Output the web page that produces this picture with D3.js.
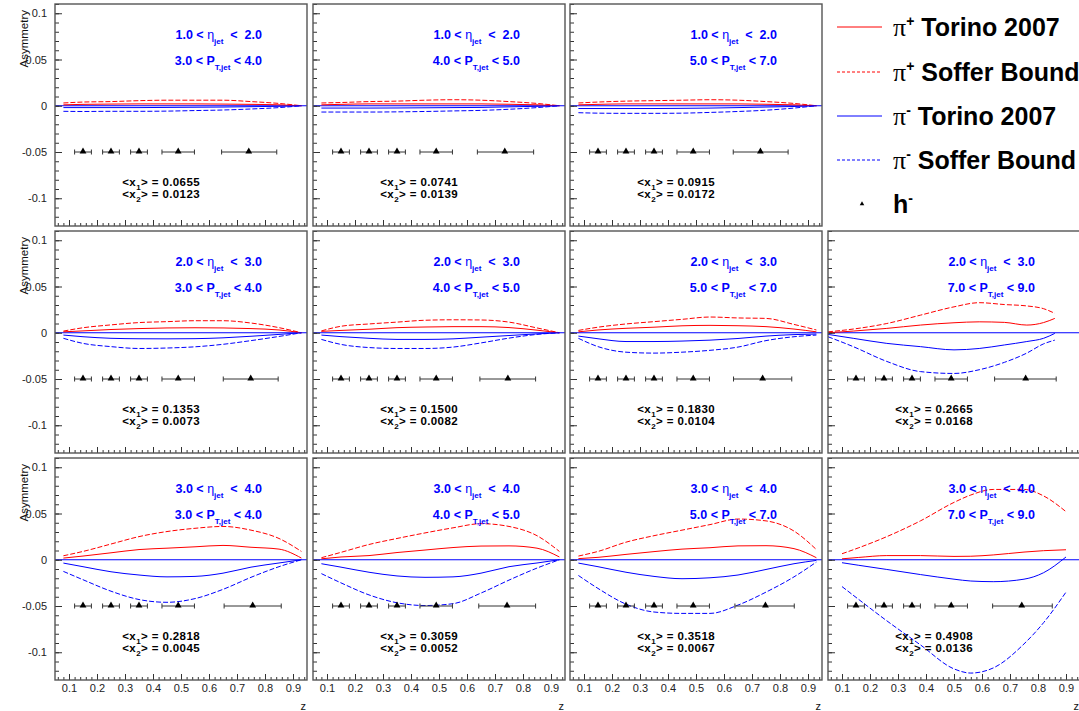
<!DOCTYPE html>
<html lang="en">
<head>
  <meta charset="UTF-8">
  <title>Asymmetry vs z</title>
  <script src="https://d3js.org/d3.v7.min.js"></script>
  <style>
    body { margin: 0; background: #fff; }
    svg { display: block; font-family: "Liberation Sans", Arial, Helvetica, sans-serif; }
    text { white-space: pre; }
    .tick text { font-size: 11px; fill: #222; font-family: "Liberation Sans", Arial, sans-serif; }
    .tick line { stroke: #333; }
  </style>
</head>
<body>
  <script>
    const W = 1079, H = 711;

    // panel order: row 1 (3 panels), row 2 (4), row 3 (4)
    const panelRow = [0, 0, 0, 1, 1, 1, 1, 2, 2, 2, 2];
    const panelCol = [0, 1, 2, 0, 1, 2, 3, 0, 1, 2, 3];

    const etaBins = [["1.0", "2.0"], ["2.0", "3.0"], ["3.0", "4.0"]];
    const ptBins = [["3.0", "4.0"], ["4.0", "5.0"], ["5.0", "7.0"], ["7.0", "9.0"]];
    const x1Mean = ["0.0655", "0.0741", "0.0915", "0.1353", "0.1500", "0.1830", "0.2665", "0.2818", "0.3059", "0.3518", "0.4908"];
    const x2Mean = ["0.0123", "0.0139", "0.0172", "0.0073", "0.0082", "0.0104", "0.0168", "0.0045", "0.0052", "0.0067", "0.0136"];

    // z grids the curves are sampled on
    const zStd = [0.08, 0.15, 0.25, 0.35, 0.45, 0.55, 0.65, 0.75, 0.85, 0.93];
    const zR2C4 = [0.05, 0.14, 0.26, 0.38, 0.5, 0.59, 0.68, 0.76, 0.82, 0.86];
    const zR3C4 = [0.1, 0.16, 0.26, 0.38, 0.5, 0.56, 0.64, 0.75, 0.82, 0.9];
    const panelZ = [zStd, zStd, zStd, zStd, zStd, zStd, zR2C4, zStd, zStd, zStd, zR3C4];

    const torinoPlus = [
      [0.001, 0.0015, 0.0018, 0.002, 0.002, 0.002, 0.0018, 0.0015, 0.001, 0],
      [0.001, 0.0015, 0.002, 0.002, 0.002, 0.002, 0.002, 0.0016, 0.001, 0],
      [0.001, 0.0015, 0.002, 0.002, 0.002, 0.002, 0.002, 0.0016, 0.001, 0],
      [0.001, 0.002, 0.0035, 0.0045, 0.0052, 0.0054, 0.0052, 0.0045, 0.003, 0],
      [0.0015, 0.0025, 0.0038, 0.0055, 0.0062, 0.0066, 0.0066, 0.0056, 0.0028, 0],
      [0.001, 0.003, 0.0048, 0.006, 0.0075, 0.008, 0.0076, 0.0066, 0.004, 0.001],
      [0, 0.0018, 0.0047, 0.0083, 0.0108, 0.0118, 0.0112, 0.0083, 0.011, 0.0155],
      [0.0018, 0.004, 0.0075, 0.011, 0.0125, 0.014, 0.0155, 0.0135, 0.0115, 0.0018],
      [0.001, 0.003, 0.0045, 0.0078, 0.0105, 0.0132, 0.0148, 0.015, 0.0125, 0.003],
      [0.0012, 0.0026, 0.0058, 0.0088, 0.0115, 0.013, 0.015, 0.0152, 0.012, 0.0022],
      [0.001, 0.0025, 0.0045, 0.0045, 0.0036, 0.0038, 0.0052, 0.0083, 0.0098, 0.0108]
    ];
    const sofferPlus = [
      [0.003, 0.004, 0.0045, 0.0055, 0.006, 0.006, 0.006, 0.0045, 0.0025, 0],
      [0.003, 0.0035, 0.0045, 0.005, 0.006, 0.0065, 0.006, 0.0045, 0.0025, 0],
      [0.003, 0.004, 0.005, 0.0055, 0.006, 0.0065, 0.006, 0.0045, 0.0025, 0],
      [0.0018, 0.0054, 0.0085, 0.011, 0.012, 0.013, 0.013, 0.0105, 0.0055, 0],
      [0.002, 0.007, 0.0095, 0.0115, 0.0135, 0.014, 0.0138, 0.0115, 0.0052, 0],
      [0.0025, 0.006, 0.0095, 0.012, 0.0145, 0.017, 0.016, 0.0155, 0.009, 0.003],
      [0.001, 0.004, 0.01, 0.019, 0.028, 0.0325, 0.0305, 0.029, 0.026, 0.021],
      [0.0043, 0.009, 0.017, 0.025, 0.0305, 0.034, 0.036, 0.032, 0.023, 0.009],
      [0.0022, 0.008, 0.0165, 0.023, 0.029, 0.0345, 0.039, 0.036, 0.026, 0.009],
      [0.004, 0.009, 0.019, 0.026, 0.032, 0.038, 0.044, 0.042, 0.031, 0.011],
      [0.0065, 0.013, 0.025, 0.042, 0.062, 0.07, 0.076, 0.076, 0.069, 0.052]
    ];
    const torinoMinus = [
      [-0.002, -0.002, -0.002, -0.002, -0.0018, -0.0016, -0.0014, -0.001, -0.0006, 0],
      [-0.0025, -0.0025, -0.0025, -0.0024, -0.0022, -0.002, -0.0018, -0.0012, -0.0006, 0],
      [-0.003, -0.003, -0.003, -0.003, -0.0028, -0.0025, -0.002, -0.0014, -0.0008, 0],
      [-0.0025, -0.0043, -0.006, -0.0065, -0.0066, -0.0064, -0.0055, -0.0038, -0.0018, 0],
      [-0.0025, -0.0042, -0.006, -0.0072, -0.0072, -0.0066, -0.0048, -0.003, -0.0012, 0],
      [-0.0036, -0.0065, -0.0095, -0.0095, -0.009, -0.008, -0.0062, -0.0036, -0.002, -0.0014],
      [-0.0018, -0.006, -0.0115, -0.015, -0.0185, -0.017, -0.0132, -0.0095, -0.006, -0.0007],
      [-0.0036, -0.0075, -0.013, -0.0165, -0.0185, -0.018, -0.0145, -0.008, -0.0035, 0],
      [-0.0043, -0.008, -0.0135, -0.0175, -0.019, -0.0185, -0.0145, -0.0075, -0.0035, 0],
      [-0.0036, -0.0075, -0.0135, -0.018, -0.0205, -0.0195, -0.0165, -0.0105, -0.0043, -0.0007],
      [-0.0032, -0.006, -0.0105, -0.016, -0.021, -0.023, -0.0237, -0.021, -0.014, 0.003]
    ];
    const sofferMinus = [
      [-0.006, -0.0062, -0.006, -0.006, -0.0058, -0.0052, -0.0046, -0.0035, -0.002, 0],
      [-0.0068, -0.0068, -0.0068, -0.0066, -0.0062, -0.0056, -0.005, -0.0038, -0.002, 0],
      [-0.0075, -0.008, -0.0082, -0.0082, -0.008, -0.0072, -0.0062, -0.0048, -0.0025, 0],
      [-0.006, -0.0115, -0.015, -0.017, -0.0165, -0.0152, -0.0125, -0.0085, -0.004, 0],
      [-0.0072, -0.0126, -0.016, -0.017, -0.017, -0.0155, -0.011, -0.0058, -0.0018, 0],
      [-0.006, -0.015, -0.021, -0.022, -0.021, -0.019, -0.0155, -0.0085, -0.0043, -0.0025],
      [-0.0043, -0.015, -0.031, -0.042, -0.044, -0.04, -0.032, -0.022, -0.012, -0.008],
      [-0.0126, -0.0216, -0.034, -0.043, -0.046, -0.042, -0.032, -0.019, -0.0075, 0],
      [-0.015, -0.025, -0.038, -0.0465, -0.0495, -0.0475, -0.036, -0.022, -0.009, 0],
      [-0.017, -0.031, -0.048, -0.0565, -0.058, -0.058, -0.049, -0.035, -0.0185, -0.0025],
      [-0.029, -0.043, -0.066, -0.092, -0.118, -0.1225, -0.117, -0.091, -0.068, -0.035]
    ];

    // h- points (all at asymmetry -0.05)
    const hY = -0.05;
    const hZ = [0.15, 0.25, 0.35, 0.49];
    const hErr = [0.03, 0.03, 0.03, 0.058];
    const hLastZ = [0.742, 0.735, 0.73, 0.749, 0.746, 0.738, 0.756, 0.756, 0.743, 0.748, 0.742];
    const hLastLo = [0.645, 0.637, 0.633, 0.651, 0.646, 0.634, 0.645, 0.654, 0.642, 0.639, 0.638];
    const hLastHi = [0.842, 0.838, 0.829, 0.847, 0.845, 0.842, 0.865, 0.858, 0.845, 0.851, 0.851];

    const yMajor = [-0.1, -0.05, 0, 0.05, 0.1];
    const xMajor = [0.1, 0.2, 0.3, 0.4, 0.5, 0.6, 0.7, 0.8, 0.9];

    const legendCharge = ["+", "+", "-", "-"];
    const legendNames = ["Torino 2007", "Soffer Bound", "Torino 2007", "Soffer Bound"];

    // layout
    const colLeft = [55, 313, 570, 828];
    const rowTop = [4, 231, 458];
    const pw = 252, ph = 222;
    const RED = "#ff0000", BLUE = "#0000ff";

    const x = d3.scaleLinear().domain([0.05, 0.95]).range([0, pw]);
    const y = d3.scaleLinear().domain([-0.13, 0.11]).range([ph, 0]);

    const line = d3.line()
      .x(d => x(d[0]))
      .y(d => y(d[1]))
      .curve(d3.curveMonotoneX);

    const fmt = d => d === 0 ? "0" : String(+d.toFixed(2));

    const svg = d3.select("body").append("svg")
      .attr("width", W)
      .attr("height", H);

    // text with sub/superscripts: parts = [text, size, dy, weight, family]
    function rich(g, px, py, parts, fill, size, anchor) {
      const t = g.append("text")
        .attr("x", px).attr("y", py)
        .attr("text-anchor", anchor || "end")
        .attr("font-size", size)
        .attr("font-weight", "bold")
        .attr("fill", fill);
      parts.forEach(p => {
        const ts = t.append("tspan").text(p[0]);
        if (p[1]) ts.attr("font-size", p[1]);
        if (p[2]) ts.attr("dy", p[2]);
        if (p[3]) ts.attr("font-weight", p[3]);
        if (p[4]) ts.attr("font-family", p[4]);
      });
      return t;
    }

    panelRow.forEach((r, i) => {
      const c = panelCol[i];
      const g = svg.append("g").attr("transform", `translate(${colLeft[c]},${rowTop[r]})`);
      const zs = panelZ[i];

      // zero line
      g.append("line")
        .attr("x1", 0).attr("x2", pw)
        .attr("y1", y(0)).attr("y2", y(0))
        .attr("stroke", BLUE).attr("stroke-width", 1);

      const curves = [
        [torinoPlus[i], RED, null],
        [sofferPlus[i], RED, "5,2"],
        [torinoMinus[i], BLUE, null],
        [sofferMinus[i], BLUE, "5,2"]
      ];
      curves.forEach(cv => {
        g.append("path")
          .datum(zs.map((z, k) => [z, cv[0][k]]))
          .attr("d", line)
          .attr("fill", "none")
          .attr("stroke", cv[1])
          .attr("stroke-width", 1)
          .attr("stroke-dasharray", cv[2]);
      });

      // h- points with horizontal error bars
      const pts = hZ.map((z, k) => [z, z - hErr[k], z + hErr[k]]);
      pts.push([hLastZ[i], hLastLo[i], hLastHi[i]]);
      pts.forEach(p => {
        g.append("line")
          .attr("x1", x(p[1])).attr("x2", x(p[2]))
          .attr("y1", y(hY)).attr("y2", y(hY))
          .attr("stroke", "#333").attr("stroke-width", 1);
        [p[1], p[2]].forEach(e => {
          g.append("line")
            .attr("x1", x(e)).attr("x2", x(e))
            .attr("y1", y(hY) - 2.5).attr("y2", y(hY) + 2.5)
            .attr("stroke", "#333").attr("stroke-width", 1);
        });
        g.append("path")
          .attr("d", d3.symbol(d3.symbolTriangle, 20)())
          .attr("transform", `translate(${x(p[0])},${y(hY) - 0.5})`)
          .attr("fill", "#000");
      });

      // axes, ticks pointing into the frame
      g.append("g")
        .call(d3.axisLeft(y).tickValues(yMajor).tickSizeInner(-7).tickSizeOuter(0)
          .tickPadding(8).tickFormat(c === 0 ? fmt : ""));
      g.append("g")
        .call(d3.axisLeft(y).tickValues(d3.range(-12, 12).map(v => v / 100)).tickSizeInner(-4).tickSizeOuter(0).tickFormat(""));
      g.append("g").attr("transform", `translate(0,${ph})`)
        .call(d3.axisBottom(x).tickValues(xMajor).tickSizeInner(-6).tickSizeOuter(0)
          .tickPadding(4).tickFormat(r === 2 ? fmt : ""));
      g.append("g").attr("transform", `translate(0,${ph})`)
        .call(d3.axisBottom(x).tickValues(d3.range(3, 48).map(v => v / 50)).tickSizeInner(-3).tickSizeOuter(0).tickFormat(""));
      g.selectAll(".domain").remove();
      g.selectAll(".tick line").attr("stroke", "#333");

      // frame
      g.append("rect")
        .attr("width", pw).attr("height", ph)
        .attr("fill", "none")
        .attr("stroke", "#555").attr("stroke-width", 1.4);

      // bin labels
      rich(g, 207, 35, [
        [etaBins[r][0] + " < "],
        ["\u03B7", null, null, "normal"],
        ["jet", 8, 5],
        ["  <  " + etaBins[r][1], null, -5]
      ], BLUE, 12.5);
      rich(g, 207, 61, [
        [ptBins[c][0] + " < P"],
        ["T,jet", 8, 5],
        [" < " + ptBins[c][1], null, -5]
      ], BLUE, 12.5);

      // mean x labels
      rich(g, 145, 182, [
        ["<x"], ["1", 8, 4], [">", null, -4], [" = " + x1Mean[i]]
      ], "#000", 11.5).attr("letter-spacing", 0.4);
      rich(g, 145, 194, [
        ["<x"], ["2", 8, 4], [">", null, -4], [" = " + x2Mean[i]]
      ], "#000", 11.5).attr("letter-spacing", 0.4);

      if (c === 0) {
        g.append("text")
          .attr("transform", `translate(-27,6) rotate(-90)`)
          .attr("text-anchor", "end")
          .attr("font-size", 11.5)
          .attr("fill", "#111")
          .text("Asymmetry");
      }
      if (r === 2) {
        g.append("text")
          .attr("x", pw - 1).attr("y", ph + 30)
          .attr("text-anchor", "end")
          .attr("font-size", 11)
          .attr("fill", "#111")
          .text("z");
      }
    });

    // legend
    const legY = [27, 72, 116, 160, 204];
    const legColor = [RED, RED, BLUE, BLUE];
    const legDash = [null, "3,2", null, "3,2"];
    const leg = svg.append("g");
    legendNames.forEach((name, k) => {
      leg.append("line")
        .attr("x1", 837).attr("x2", 882)
        .attr("y1", legY[k]).attr("y2", legY[k])
        .attr("stroke", legColor[k]).attr("stroke-width", 1)
        .attr("stroke-dasharray", legDash[k]);
      rich(leg, 893, legY[k] + 9, [
        ["\u03C0", 26, null, "normal", "'Liberation Serif', serif"],
        [legendCharge[k] === "+" ? "+" : "-", 14, -10],
        [" " + name, null, 10]
      ], "#000", 25, "start");
    });
    leg.append("path")
      .attr("d", d3.symbol(d3.symbolTriangle, 9)())
      .attr("transform", `translate(862,${legY[4]})`)
      .attr("fill", "#000");
    rich(leg, 893, legY[4] + 9, [["h"], ["-", 14, -10]], "#000", 25, "start");
  </script>
</body>
</html>
